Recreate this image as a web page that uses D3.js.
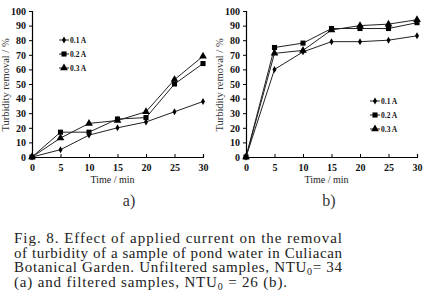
<!DOCTYPE html>
<html>
<head>
<meta charset="utf-8">
<script src="https://cdn.jsdelivr.net/npm/d3@7"></script>
<style>
  body { margin: 0; background: #fff; }
  svg { display: block; }
</style>
</head>
<body>
<script>
var times = [0, 5, 10, 15, 20, 25, 30];
var yTicks = [0, 10, 20, 30, 40, 50, 60, 70, 80, 90, 100];
var seriesNames = ["0.1 A", "0.2 A", "0.3 A"];

// panel a) unfiltered
var a01 = [0, 5, 15, 20, 24, 31, 38];
var a02 = [0, 17, 17, 26, 27, 50, 64];
var a03 = [0, 13, 23, 25, 31, 53, 69];

// panel b) filtered
var b01 = [0, 60, 72, 79, 79, 80, 83];
var b02 = [0, 75, 78, 88, 88, 88, 92];
var b03 = [0, 71, 73, 87, 90, 91, 94];

// "_0" marks a subscript zero
var captionLines = [
    "Fig.  8.  Effect of applied current on the removal",
    "of turbidity of a sample of pond water in Culiacan",
    "Botanical Garden.  Unfiltered samples, NTU_0= 34",
    "(a) and filtered samples, NTU_0 = 26 (b)."
];

var serif = "'Liberation Serif', 'DejaVu Serif', serif";

function init() {
    var w = 428;
    var h = 303;

    var svg = d3.select("body")
        .append("svg")
        .attr("width", w)
        .attr("height", h);

    var symbols = [d3.symbolDiamond, d3.symbolSquare, d3.symbolTriangle];
    var symSize = [14, 26, 26];

    function panel(x0, x1, data, legendX, legendY, label) {
        var x = d3.scaleLinear().domain([0, 30]).range([x0, x1]);
        var y = d3.scaleLinear().domain([0, 100]).range([157, 11]);
        var g = svg.append("g");

        g.append("g")
            .attr("transform", "translate(" + x0 + ",0)")
            .call(d3.axisLeft(y).tickValues(yTicks).tickSize(3).tickPadding(3));
        g.append("g")
            .attr("transform", "translate(0,157)")
            .call(d3.axisBottom(x).tickValues(times).tickSize(-3).tickPadding(7));

        g.selectAll(".domain").attr("stroke", "#000").attr("stroke-width", 1.2);
        g.selectAll(".tick line").attr("stroke", "#000");
        g.selectAll(".tick text")
            .attr("font-family", serif)
            .attr("font-weight", "bold")
            .attr("font-size", 10)
            .attr("fill", "#111");

        g.append("text")
            .attr("x", (x0 + x1) / 2 - 5)
            .attr("y", 183)
            .attr("text-anchor", "middle")
            .attr("font-family", serif)
            .attr("font-size", 10)
            .attr("fill", "#222")
            .text("Time / min");

        g.append("text")
            .attr("transform", "translate(" + (x0 - 23) + ",85) rotate(-90)")
            .attr("text-anchor", "middle")
            .attr("font-family", serif)
            .attr("font-size", 10.5)
            .attr("fill", "#333")
            .text("Turbidity removal / %");

        var line = d3.line()
            .x(function (d, i) { return x(times[i]); })
            .y(function (d) { return y(d); });

        data.forEach(function (vals, k) {
            g.append("path")
                .datum(vals)
                .attr("d", line)
                .attr("fill", "none")
                .attr("stroke", "#222")
                .attr("stroke-width", 1);
            g.selectAll(".m" + k)
                .data(vals)
                .enter()
                .append("path")
                .attr("d", d3.symbol().type(symbols[k]).size(symSize[k]))
                .attr("transform", function (d, i) {
                    return "translate(" + x(times[i]) + "," + y(d) + ")";
                })
                .attr("fill", "#000");

            var ly = legendY + k * 14;
            g.append("line")
                .attr("x1", legendX).attr("x2", legendX + 10)
                .attr("y1", ly).attr("y2", ly)
                .attr("stroke", "#222");
            g.append("path")
                .attr("d", d3.symbol().type(symbols[k]).size(symSize[k]))
                .attr("transform", "translate(" + (legendX + 5) + "," + ly + ")")
                .attr("fill", "#000");
            g.append("text")
                .attr("x", legendX + 11)
                .attr("y", ly + 2.5)
                .attr("font-family", serif)
                .attr("font-weight", "bold")
                .attr("font-size", 7.5)
                .attr("fill", "#111")
                .text(seriesNames[k]);
        });

        svg.append("text")
            .attr("x", label.x)
            .attr("y", 206)
            .attr("text-anchor", "middle")
            .attr("font-family", serif)
            .attr("font-size", 16)
            .attr("fill", "#333")
            .text(label.t);
    }

    panel(32, 203, [a01, a02, a03], 59, 40, { x: 129, t: "a)" });
    panel(246, 417, [b01, b02, b03], 370, 101, { x: 329, t: "b)" });

    var cap = svg.selectAll(".caption")
        .data(captionLines)
        .enter()
        .append("text")
        .attr("x", 14)
        .attr("y", function (d, i) { return 243 + i * 14.7; })
        .attr("font-family", serif)
        .attr("font-size", 15)
        .attr("fill", "#222")
        .attr("textLength", function (d, i) { return i === 3 ? 273 : 328; })
        .attr("lengthAdjust", "spacing");

    cap.each(function (d) {
        var t = d3.select(this);
        var parts = d.split("_0");
        parts.forEach(function (p, j) {
            if (j > 0) {
                t.append("tspan")
                    .attr("font-size", 10)
                    .attr("dy", 3)
                    .text("0");
                t.append("tspan").attr("dy", -3).text(p);
            } else {
                t.append("tspan").text(p);
            }
        });
    });
}

window.onload = init;
</script>
</body>
</html>
